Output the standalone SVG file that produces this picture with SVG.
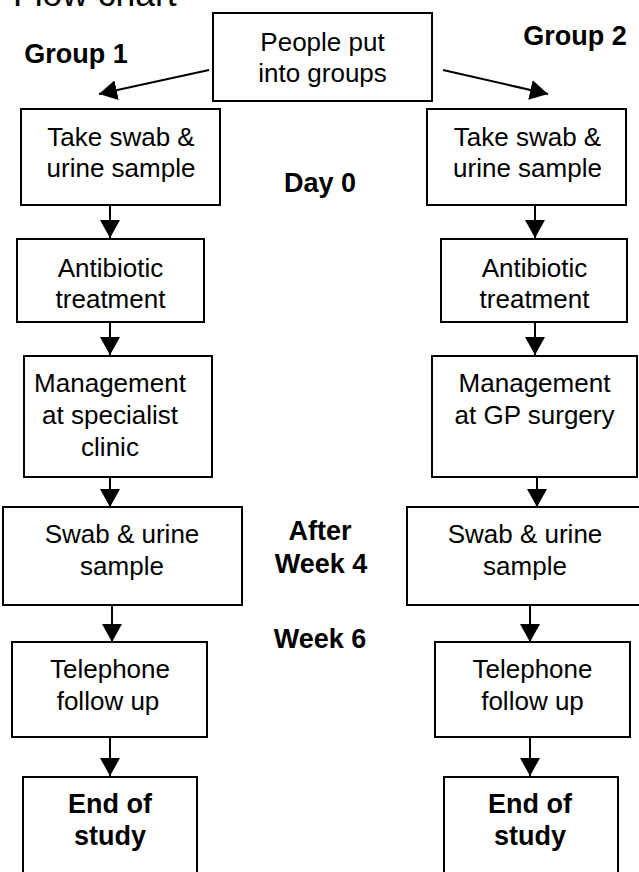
<svg xmlns="http://www.w3.org/2000/svg" width="639" height="872" viewBox="0 0 639 872">
<defs>
<marker id="ah" viewBox="0 0 18 20" refX="18" refY="10" markerWidth="18" markerHeight="20" markerUnits="userSpaceOnUse" orient="auto"><path d="M0,0 L18,10 L0,20 z" fill="#000"/></marker>
</defs>
<style>
.box{fill:#fff;stroke:#000;stroke-width:2}
.t{font-family:"Liberation Sans",Arial,sans-serif;font-size:26px;text-anchor:middle;fill:#000}
.b{font-family:"Liberation Sans",Arial,sans-serif;font-size:27px;font-weight:bold;text-anchor:middle;fill:#000}
.c{stroke:#000;stroke-width:2;fill:none;marker-end:url(#ah)}
</style>
<rect width="639" height="872" fill="#fff"/>
<text x="13" y="6" style="font-family:'Liberation Sans',Arial,sans-serif;font-size:35.5px;fill:#000">Flow chart</text>

<g id="labels">
<text class="b" x="76" y="63">Group 1</text>
<text class="b" x="575" y="45">Group 2</text>
<text class="b" x="320" y="192">Day 0</text>
<text class="b" x="320" y="540">After</text>
<text class="b" x="321" y="573">Week 4</text>
<text class="b" x="320" y="648">Week 6</text>
</g>

<g id="connectors">
<line class="c" x1="209" y1="70" x2="99" y2="94"/>
<line class="c" x1="443" y1="70" x2="548" y2="94"/>
<line class="c" x1="110" y1="205" x2="110" y2="238"/>
<line class="c" x1="110" y1="322" x2="110" y2="355"/>
<line class="c" x1="110" y1="477" x2="110" y2="507"/>
<line class="c" x1="112" y1="605" x2="112" y2="642"/>
<line class="c" x1="110" y1="737" x2="110" y2="776"/>
<line class="c" x1="535" y1="205" x2="535" y2="238"/>
<line class="c" x1="535" y1="322" x2="535" y2="355"/>
<line class="c" x1="537" y1="477" x2="537" y2="507"/>
<line class="c" x1="530" y1="605" x2="530" y2="642"/>
<line class="c" x1="530" y1="737" x2="530" y2="776"/>
</g>

<g id="start">
<rect class="box" x="213" y="13" width="219" height="88"/>
<text class="t" x="322.5" y="50.5">People put</text>
<text class="t" x="322.5" y="82">into groups</text>
</g>

<g id="g1-swab">
<rect class="box" x="21" y="109" width="199" height="96"/>
<text class="t" x="121" y="146">Take swab &amp;</text>
<text class="t" x="121" y="177">urine sample</text>
</g>
<g id="g1-antibiotic">
<rect class="box" x="17" y="239" width="187" height="83"/>
<text class="t" x="110.5" y="277">Antibiotic</text>
<text class="t" x="110.5" y="308">treatment</text>
</g>
<g id="g1-management">
<rect class="box" x="24" y="356" width="188" height="121"/>
<text class="t" x="110" y="392">Management</text>
<text class="t" x="110" y="424">at specialist</text>
<text class="t" x="110" y="456">clinic</text>
</g>
<g id="g1-sample">
<rect class="box" x="3" y="507" width="239" height="98"/>
<text class="t" x="122" y="543">Swab &amp; urine</text>
<text class="t" x="122" y="575">sample</text>
</g>
<g id="g1-telephone">
<rect class="box" x="12" y="642" width="195" height="95"/>
<text class="t" x="110" y="678">Telephone</text>
<text class="t" x="108" y="710">follow up</text>
</g>
<g id="g1-end">
<rect class="box" x="23" y="777" width="174" height="110"/>
<text class="b" x="110" y="813">End of</text>
<text class="b" x="110" y="845">study</text>
</g>

<g id="g2-swab">
<rect class="box" x="427" y="109" width="199" height="96"/>
<text class="t" x="527.5" y="146">Take swab &amp;</text>
<text class="t" x="527.5" y="177">urine sample</text>
</g>
<g id="g2-antibiotic">
<rect class="box" x="441" y="239" width="186" height="83"/>
<text class="t" x="534.5" y="277">Antibiotic</text>
<text class="t" x="534.5" y="308">treatment</text>
</g>
<g id="g2-management">
<rect class="box" x="432" y="356" width="205" height="121"/>
<text class="t" x="534.5" y="392">Management</text>
<text class="t" x="534.5" y="424">at GP surgery</text>
</g>
<g id="g2-sample">
<rect class="box" x="407" y="507" width="239" height="98"/>
<text class="t" x="525" y="543">Swab &amp; urine</text>
<text class="t" x="525" y="575">sample</text>
</g>
<g id="g2-telephone">
<rect class="box" x="435" y="642" width="195" height="95"/>
<text class="t" x="532.5" y="678">Telephone</text>
<text class="t" x="532.5" y="710">follow up</text>
</g>
<g id="g2-end">
<rect class="box" x="444" y="777" width="174" height="110"/>
<text class="b" x="530" y="813">End of</text>
<text class="b" x="530" y="845">study</text>
</g>
</svg>
